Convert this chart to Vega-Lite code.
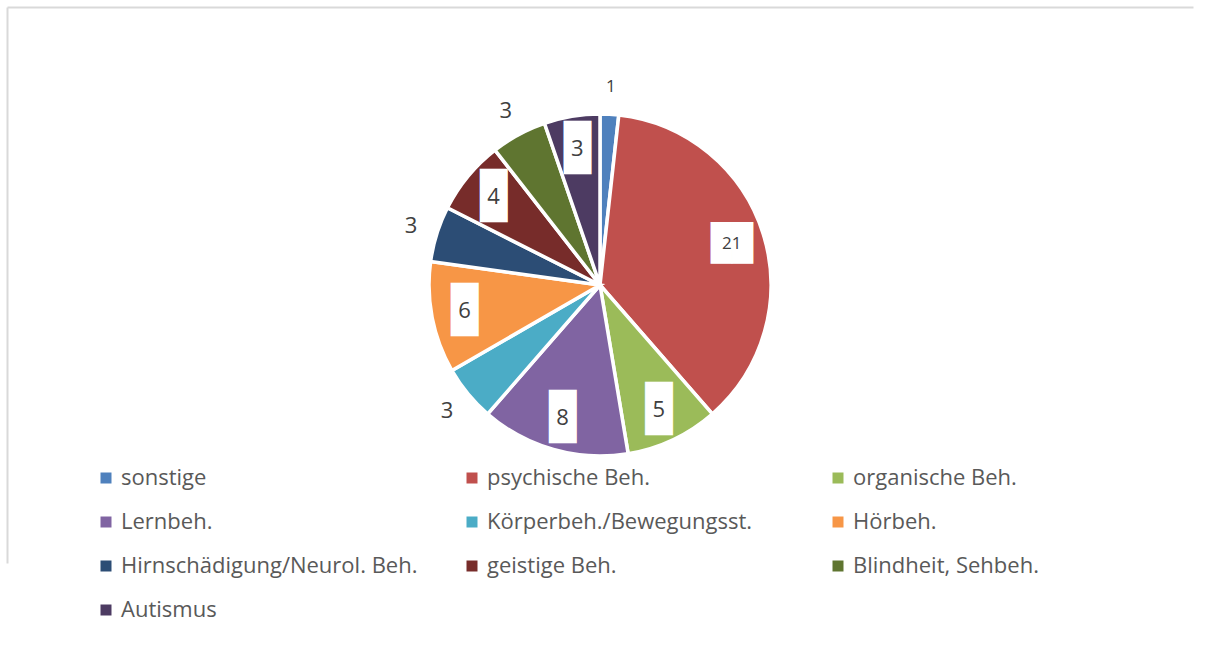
{
  "$schema": "https://vega.github.io/schema/vega-lite/v6.json",
  "width": 1186,
  "height": 556,
  "autosize": "none",
  "padding": {"left": 7, "top": 7, "right": 20, "bottom": 83},
  "background": "white",
  "config": {"view": {"stroke": null}, "font": "Open Sans"},
  "data": {
    "values": [
      {"nr": 1, "name": "sonstige", "anzahl": 1},
      {"nr": 2, "name": "psychische Beh.", "anzahl": 21},
      {"nr": 3, "name": "organische Beh.", "anzahl": 5},
      {"nr": 4, "name": "Lernbeh.", "anzahl": 8},
      {"nr": 5, "name": "Körperbeh./Bewegungsst.", "anzahl": 3},
      {"nr": 6, "name": "Hörbeh.", "anzahl": 6},
      {"nr": 7, "name": "Hirnschädigung/Neurol. Beh.", "anzahl": 3},
      {"nr": 8, "name": "geistige Beh.", "anzahl": 4},
      {"nr": 9, "name": "Blindheit, Sehbeh.", "anzahl": 3},
      {"nr": 10, "name": "Autismus", "anzahl": 3}
    ]
  },
  "layer": [
    {
      "mark": {"type": "point", "opacity": 0},
      "encoding": {
        "x": {"datum": 0, "type": "quantitative", "scale": {"domain": [0, 1]},
              "axis": {"orient": "top", "domainColor": "#d9d9d9", "domainWidth": 2, "labels": false, "ticks": false, "grid": false, "title": null}},
        "y": {"datum": 0, "type": "quantitative", "scale": {"domain": [0, 1]},
              "axis": {"orient": "left", "domainColor": "#d9d9d9", "domainWidth": 2, "labels": false, "ticks": false, "grid": false, "title": null}}
      }
    },
    {
      "mark": {"type": "arc", "outerRadius": 171, "stroke": "white", "strokeWidth": 3.5},
      "encoding": {
        "theta": {"field": "anzahl", "type": "quantitative", "stack": true},
        "order": {"field": "nr", "type": "quantitative"},
        "color": {
          "field": "name", "type": "nominal",
          "scale": {
            "domain": ["sonstige", "psychische Beh.", "organische Beh.", "Lernbeh.", "Körperbeh./Bewegungsst.", "Hörbeh.", "Hirnschädigung/Neurol. Beh.", "geistige Beh.", "Blindheit, Sehbeh.", "Autismus"],
            "range": ["#4F81BD", "#C0504D", "#9BBB59", "#8064A2", "#4BACC6", "#F79646", "#2C4D75", "#772C2A", "#5F7530", "#4D3B62"]
          },
          "legend": {
            "orient": "none", "legendX": 88, "legendY": 460, "direction": "horizontal", "columns": 3,
            "gridAlign": "all", "columnPadding": 43, "rowPadding": 22, "symbolType": "square",
            "symbolSize": 121, "symbolStrokeWidth": 0, "labelFontSize": 22, "labelColor": "#595959",
            "labelFont": "Open Sans", "labelLimit": 400, "labelOffset": 4, "title": null, "padding": 0
          }
        }
      }
    },
    {
      "mark": {"type": "text", "radius": 138, "color": "white", "font": "DejaVu Sans Mono", "baseline": "middle", "align": "center"},
      "encoding": {
        "theta": {"field": "anzahl", "type": "quantitative", "stack": true},
        "order": {"field": "nr", "type": "quantitative"},
        "text": {"condition": {"test": "datum.anzahl >= 10", "value": "██"}, "value": "█"},
        "size": {"condition": {"test": "datum.anzahl >= 10", "value": 35}, "value": 45},
        "opacity": {"condition": {"test": "indexof(['sonstige','Körperbeh./Bewegungsst.','Hirnschädigung/Neurol. Beh.','Blindheit, Sehbeh.'], datum.name) < 0", "value": 1}, "value": 0}
      }
    },
    {
      "mark": {"type": "text", "radius": 138, "color": "#404040", "baseline": "middle", "align": "center"},
      "encoding": {
        "theta": {"field": "anzahl", "type": "quantitative", "stack": true},
        "order": {"field": "nr", "type": "quantitative"},
        "text": {"field": "anzahl", "type": "quantitative"},
        "size": {"condition": {"test": "datum.anzahl == 1 || datum.anzahl == 21", "value": 17}, "value": 22},
        "opacity": {"condition": {"test": "indexof(['sonstige','Körperbeh./Bewegungsst.','Hirnschädigung/Neurol. Beh.','Blindheit, Sehbeh.'], datum.name) < 0", "value": 1}, "value": 0}
      }
    },
    {
      "mark": {"type": "text", "radius": 198, "color": "#404040", "baseline": "middle", "align": "center"},
      "encoding": {
        "theta": {"field": "anzahl", "type": "quantitative", "stack": true},
        "order": {"field": "nr", "type": "quantitative"},
        "text": {"field": "anzahl", "type": "quantitative"},
        "size": {"condition": {"test": "datum.anzahl == 1 || datum.anzahl == 21", "value": 17}, "value": 22},
        "opacity": {"condition": {"test": "indexof(['sonstige','Körperbeh./Bewegungsst.','Hirnschädigung/Neurol. Beh.','Blindheit, Sehbeh.'], datum.name) >= 0", "value": 1}, "value": 0}
      }
    }
  ]
}
